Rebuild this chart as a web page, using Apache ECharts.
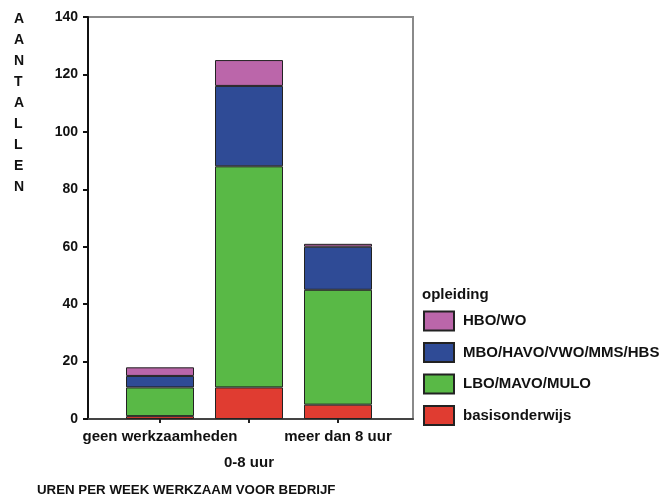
<!DOCTYPE html>
<html>
<head>
<meta charset="utf-8">
<script src="https://cdn.jsdelivr.net/npm/echarts@6/dist/echarts.min.js"></script>
<style>html,body{margin:0;padding:0;background:#fff;}#c{width:664px;height:499px;}</style>
</head>
<body>
<div id="c"></div>
<script>
const categories = ['geen werkzaamheden', '0-8 uur', 'meer dan 8 uur'];
const seriesNames = ['basisonderwijs', 'LBO/MAVO/MULO', 'MBO/HAVO/VWO/MMS/HBS', 'HBO/WO'];
const basisonderwijs = [1, 11, 5];
const lbo = [10, 77, 40];
const mbo = [4, 28, 15];
const hbo = [3, 9, 1];
const yTicks = [0, 20, 40, 60, 80, 100, 120, 140];
const colors = ['#e03c31', '#59b946', '#2f4b96', '#bb66aa'];

const values = [basisonderwijs, lbo, mbo, hbo];
const FONT = "'Liberation Sans', Arial, sans-serif";
const chart = echarts.init(document.getElementById('c'));

const series = seriesNames.map((name, s) => ({
  name: name,
  type: 'bar',
  stack: 'total',
  barWidth: 68,
  xAxisIndex: 1,
  yAxisIndex: 1,
  itemStyle: { color: colors[s], borderColor: '#222', borderWidth: 1 },
  data: values[s]
}));

chart.setOption({
  animation: false,
  title: [
    { text: 'A\nA\nN\nT\nA\nL\nL\nE\nN', left: 14, top: 9, padding: 0,
      textStyle: { fontFamily: FONT, fontSize: 14, fontWeight: 'bold', color: '#111', lineHeight: 21, align: 'center' } },
    { text: 'UREN PER WEEK WERKZAAM VOOR BEDRIJF', left: 37, top: 482, padding: 0,
      textStyle: { fontFamily: FONT, fontSize: 13.3, fontWeight: 'bold', color: '#111', lineHeight: 16 } },
    { text: 'opleiding', left: 422, top: 287, padding: 0,
      textStyle: { fontFamily: FONT, fontSize: 15, fontWeight: 'bold', color: '#111', lineHeight: 16 } }
  ],
  legend: {
    data: seriesNames.slice().reverse(),
    orient: 'vertical',
    left: 423, top: 310.5, padding: 0,
    itemWidth: 30, itemHeight: 19, itemGap: 10.5,
    icon: 'rect',
    textStyle: { fontFamily: FONT, fontSize: 15, fontWeight: 'bold', color: '#111', lineHeight: 16, padding: [0, 0, 0, 4] }
  },
  grid: [
    { left: 88, top: 17, right: 251, bottom: 80, show: true, borderColor: '#8a8a8a', borderWidth: 2 },
    { left: 115.5, top: 17, right: 281.5, bottom: 80 }
  ],
  xAxis: [
    {
      gridIndex: 0, type: 'value', min: 0, max: 1,
      splitLine: { show: false },
      axisLine: { show: true, onZero: false, lineStyle: { color: '#444', width: 2 } },
      axisTick: { show: false },
      axisLabel: { show: false }
    },
    {
      gridIndex: 1, type: 'category', data: categories,
      axisLine: { show: false },
      axisTick: { show: true, alignWithLabel: true, length: 4, lineStyle: { color: '#222', width: 2 } },
      axisLabel: {
        interval: 0, hideOverlap: false,
        margin: 5,
        fontFamily: FONT, fontSize: 15, fontWeight: 'bold', color: '#111', lineHeight: 26,
        formatter: (v, i) => i === 1 ? '\n' + v : v
      }
    }
  ],
  yAxis: [
    {
      gridIndex: 0, type: 'value', min: 0, max: 140, interval: 20,
      splitLine: { show: false },
      axisLine: { show: true, onZero: false, lineStyle: { color: '#111', width: 2 } },
      axisTick: { show: true, length: 5, lineStyle: { color: '#111', width: 2 } },
      axisLabel: { margin: 10, fontFamily: FONT, fontSize: 14, fontWeight: 'bold', color: '#111',
        formatter: v => yTicks.includes(v) ? String(v) : '' }
    },
    {
      gridIndex: 1, type: 'value', min: 0, max: 140, interval: 20, show: false
    }
  ],
  series: series
});
</script>
</body>
</html>
